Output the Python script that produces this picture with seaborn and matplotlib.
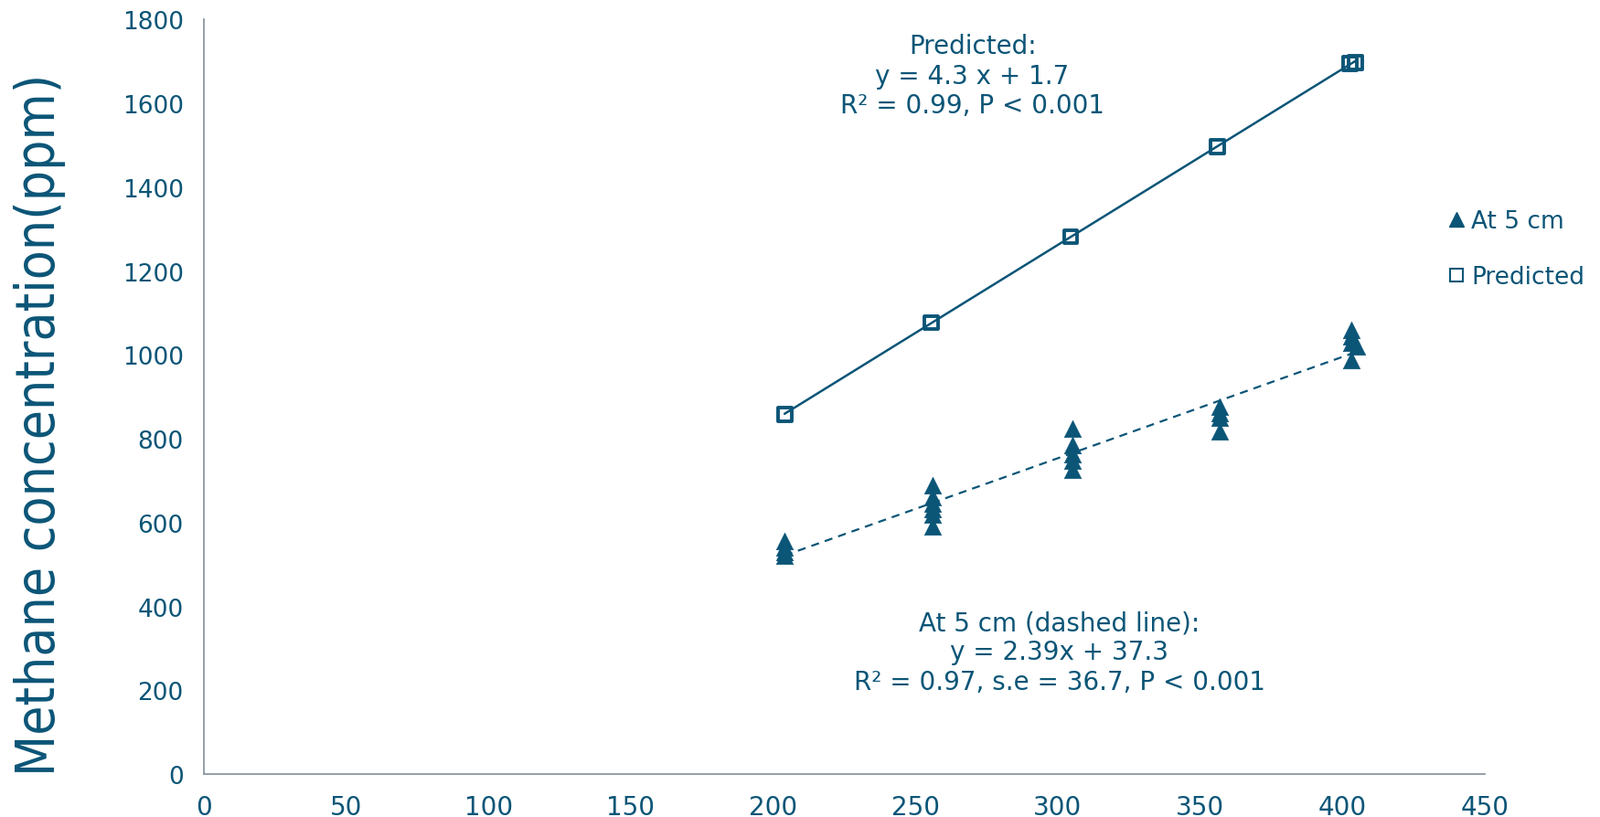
import numpy as np
import pandas as pd
import seaborn as sns
import matplotlib.pyplot as plt
from matplotlib.lines import Line2D

# values
pred_x = [204, 255.5, 304.5, 356, 402.5, 404.5]
pred_y = [858, 1077, 1282, 1497, 1695, 1698]

cm5_x = [204, 204, 204, 204,
         256, 256, 256, 256, 256, 256,
         305, 305, 305, 305, 305,
         357, 357, 357, 357,
         403, 403, 403, 403, 405]
cm5_y = [557, 540, 530, 522,
         688, 660, 645, 632, 620, 590,
         824, 784, 764, 747, 726,
         876, 862, 850, 818,
         1060, 1045, 1030, 988, 1020]

x_ticks = [0, 50, 100, 150, 200, 250, 300, 350, 400, 450]
y_ticks = [0, 200, 400, 600, 800, 1000, 1200, 1400, 1600, 1800]

teal = '#0b5577'
grey = '#8c97a3'

sns.set_theme(style='white')
plt.rcParams['font.family'] = ['DejaVu Sans']

pred = pd.DataFrame({'x': pred_x, 'y': pred_y})
cm5 = pd.DataFrame({'x': cm5_x, 'y': cm5_y})

fig = plt.figure(figsize=(17.5, 8.95), dpi=100)
ax = fig.add_axes([0.1274, 0.0525, 0.8006, 0.9225])

# fitted lines
sns.regplot(data=pred, x='x', y='y', scatter=False, ci=None, ax=ax,
            line_kws=dict(color=teal, lw=1.8, ls='-'))
sns.regplot(data=cm5, x='x', y='y', scatter=False, ci=None, ax=ax,
            line_kws=dict(color=teal, lw=1.6, ls=(0, (4, 3))))

# points
sns.scatterplot(data=cm5, x='x', y='y', marker='^', s=175, color=teal,
                edgecolor=teal, linewidth=0.5, ax=ax, zorder=3)
sns.scatterplot(data=pred, x='x', y='y', marker='s', s=115, facecolor='none',
                edgecolor=teal, linewidth=2.8, ax=ax, zorder=4)

ax.set_xlim(0, 450)
ax.set_ylim(0, 1800)
ax.set_xticks(x_ticks)
ax.set_yticks(y_ticks)
ax.tick_params(axis='both', colors=grey, labelcolor=teal,
               length=8, width=1.3, direction='out')
ax.tick_params(axis='x', pad=8, labelsize=20)
ax.tick_params(axis='y', pad=8, labelsize=19)
for s in ['top', 'right']:
    ax.spines[s].set_visible(False)
for s in ['left', 'bottom']:
    ax.spines[s].set_color(grey)
    ax.spines[s].set_linewidth(1.3)

ax.set_xlabel('')
ax.set_ylabel('Methane concentration(ppm)', fontsize=42, color=teal,
              fontstretch='condensed')
ax.yaxis.set_label_coords(-0.108, 0.464)

ax.text(0.600, 0.982, 'Predicted:\ny = 4.3 x + 1.7\nR² = 0.99, P < 0.001',
        transform=ax.transAxes, ha='center', va='top', fontsize=20,
        color=teal, linespacing=1.2)
ax.text(0.668, 0.218, 'At 5 cm (dashed line):\ny = 2.39x + 37.3\nR² = 0.97, s.e = 36.7, P < 0.001',
        transform=ax.transAxes, ha='center', va='top', fontsize=20,
        color=teal, linespacing=1.2)

handles = [Line2D([], [], ls='none', marker='^', color=teal, markersize=11),
           Line2D([], [], ls='none', marker='s', markerfacecolor='none',
                  markeredgecolor=teal, markeredgewidth=1.5, markersize=10)]
leg = fig.legend(handles, ['At 5 cm', 'Predicted'], loc='upper left',
                 bbox_to_anchor=(0.9, 0.755), frameon=False, fontsize=19,
                 handlelength=0.6, handletextpad=0.3, labelspacing=1.35,
                 borderaxespad=0)
for t in leg.get_texts():
    t.set_color(teal)

fig.savefig('out.png', dpi=100)
